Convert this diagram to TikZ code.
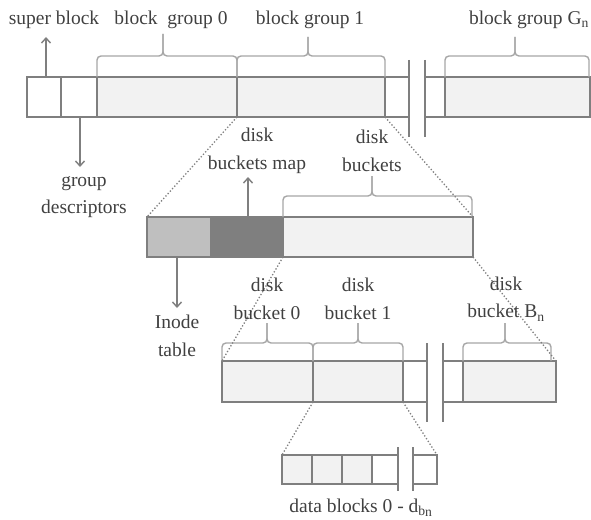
\documentclass[tikz,border=0pt]{standalone}
\usepackage{fontspec}
\setmainfont{Liberation Serif}
\usetikzlibrary{arrows.meta}
\definecolor{ln}{HTML}{7F7F7F}
\definecolor{tx}{HTML}{404040}
\definecolor{bc}{HTML}{A6A6A6}
\definecolor{lg}{HTML}{F2F2F2}
\definecolor{mg}{HTML}{BFBFBF}
\definecolor{dg}{HTML}{7F7F7F}
\tikzset{
  cell/.style={draw=ln, line width=1.4pt, anchor=north west, inner sep=0pt, outer sep=0pt},
  lbl/.style={text=tx, inner sep=0pt, align=center, font=\fontsize{19.5}{27.5}\selectfont},
  brk/.style={draw=ln, line width=1.4pt},
  bracestyle/.style={draw=bc, line width=1.4pt, rounded corners=4pt},
  dots/.style={draw=ln, line width=1.3pt, dotted},
  arr/.style={draw=ln, line width=1.4pt, -{Straight Barb[length=5pt,width=9pt]}}
}
\newcommand\mycell[6]{\node[cell, fill=#6, minimum width={(#3-#2)*1pt}, minimum height={(#5-#4)*1pt}] (#1) at (#2,#4) {};}
\newcommand\mybrace[6]{%
  \draw[bracestyle] (#1,#4) -- (#1,#5) -- (#3,#5) -- (#3,#6);
  \draw[bracestyle] (#3,#6) -- (#3,#5) -- (#2,#5) -- (#2,#4);}
\begin{document}
\begin{tikzpicture}[x=1pt,y=-1pt]
\useasboundingbox (0,0) rectangle (591,519);
% top row
\mycell{sb}{27}{61}{77}{117}{white}
\mycell{gd}{61}{97}{77}{117}{white}
\mycell{bg0}{97}{237}{77}{117}{lg}
\mycell{bg1}{237}{385}{77}{117}{lg}
\mycell{tw1}{385}{409}{77}{117}{white}
\mycell{tw2}{425}{445}{77}{117}{white}
\mycell{bgn}{445}{590}{77}{117}{lg}
\coordinate (tk1a) at (409,60); \coordinate (tk1b) at (409,137);
\coordinate (tk2a) at (425,60); \coordinate (tk2b) at (425,137);
\draw[brk] (tk1a) -- (tk1b); \draw[brk] (tk2a) -- (tk2b);
% middle row
\mycell{it}{147}{211}{217}{257}{mg}
\mycell{bm}{211}{283}{217}{257}{dg}
\mycell{db}{283}{473}{217}{257}{lg}
% bottom row
\mycell{b0}{222}{313}{361}{402}{lg}
\mycell{b1}{313}{403}{361}{402}{lg}
\mycell{bw1}{403}{427}{361}{402}{white}
\mycell{bw2}{443}{463}{361}{402}{white}
\mycell{bn}{463}{556}{361}{402}{lg}
\coordinate (bk1a) at (427,343); \coordinate (bk1b) at (427,422);
\coordinate (bk2a) at (443,343); \coordinate (bk2b) at (443,422);
\draw[brk] (bk1a) -- (bk1b); \draw[brk] (bk2a) -- (bk2b);
% data row
\mycell{d0}{282}{312}{455}{484}{lg}
\mycell{d1}{312}{342}{455}{484}{lg}
\mycell{d2}{342}{372}{455}{484}{lg}
\mycell{d3}{372}{398}{455}{484}{white}
\mycell{d4}{413}{437}{455}{484}{white}
\coordinate (dk1a) at (398,447); \coordinate (dk1b) at (398,491);
\coordinate (dk2a) at (413,447); \coordinate (dk2b) at (413,491);
\draw[brk] (dk1a) -- (dk1b); \draw[brk] (dk2a) -- (dk2b);
% braces
\mybrace{97}{237}{163}{77}{56}{34}
\mybrace{237}{385}{308}{77}{56}{37}
\mybrace{445}{589}{515}{77}{56}{37}
\mybrace{283}{472}{372}{217}{196}{176}
\mybrace{222}{313}{267}{361}{343}{323}
\mybrace{313}{403}{358}{361}{343}{323}
\mybrace{463}{551}{505}{361}{343}{323}
% dotted zoom lines
\draw[dots] (bg0.south east) -- (it.north west);
\draw[dots] (bg1.south east) -- (db.north east);
\draw[dots] (db.south west) -- (b0.north west);
\draw[dots] (db.south east) -- (bn.north east);
\draw[dots] (b1.south west) -- (d0.north west);
\draw[dots] (b1.south east) -- (d4.north east);
% labels
\node[lbl] (tsb) at (54,20) {super block};
\node[lbl] (tbg0) at (171,20) {block\ \ group 0};
\node[lbl] (tbg1) at (310,20) {block group 1};
\node[lbl] (tbgn) at (529,20) {block group G\textsubscript{n}};
\node[lbl] (tgd) at (84,197) {group\\descriptors};
\node[lbl] (tbm) at (257,151) {disk\\buckets map};
\node[lbl] (tdb) at (372,151) {disk\\buckets};
\node[lbl] (tit) at (177,336) {Inode\\table};
\node[lbl] (tb0) at (267,299) {disk\\bucket 0};
\node[lbl] (tb1) at (358,299) {disk\\bucket 1};
\node[lbl] (tbn) at (506,299) {disk\\bucket B\textsubscript{n}};
\node[lbl] (tdata) at (361,508) {data blocks 0 - d\textsubscript{b\raisebox{-1pt}{n}}};
% arrows
\draw[arr] ([xshift=2pt]sb.north) -- ++(0,-40);
\draw[arr] ([xshift=1pt]gd.south) -- ++(0,50);
\draw[arr] ([xshift=1pt]bm.north) -- ++(0,-40);
\draw[arr] ([xshift=-2pt]it.south) -- ++(0,51);
\end{tikzpicture}
\end{document}
